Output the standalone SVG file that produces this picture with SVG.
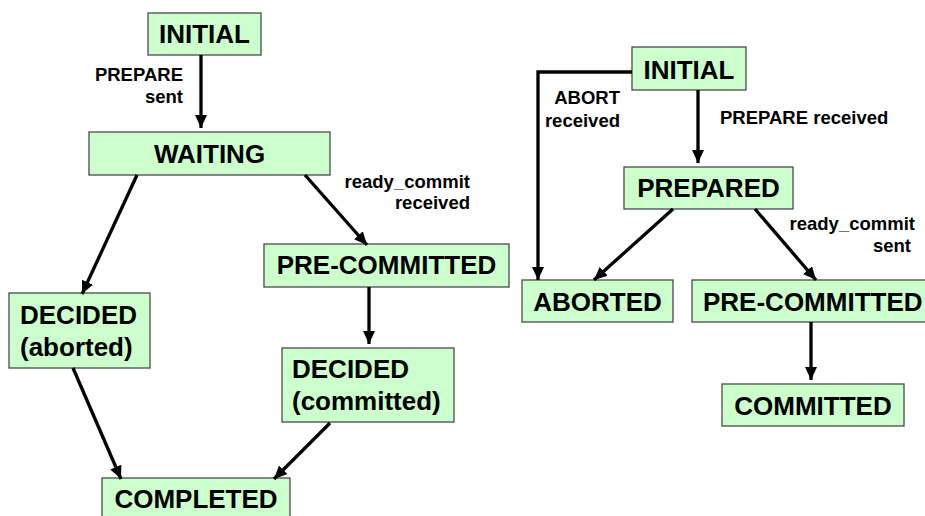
<svg xmlns="http://www.w3.org/2000/svg" width="925" height="516" viewBox="0 0 925 516">
  <style>
    .box { fill: #ccffcc; stroke: #4a4a4a; stroke-width: 1.3; }
    .title { font-family: "Liberation Sans", Arial, sans-serif; font-weight: bold; font-size: 26px; fill: #000; }
    .mid { text-anchor: middle; }
    .lbl { font-family: "Liberation Sans", Arial, sans-serif; font-weight: bold; font-size: 18.5px; fill: #000; }
    .end { text-anchor: end; }
    .edge { fill: none; stroke: #000; stroke-width: 3.3; marker-end: url(#arrow); }
  </style>
  <defs>
    <marker id="arrow" markerUnits="userSpaceOnUse" markerWidth="14" markerHeight="12" refX="13" refY="6" orient="auto">
      <path d="M0,0 L13,6 L0,12 z" fill="#000"/>
    </marker>
  </defs>
  <rect width="925" height="516" fill="#fff"/>

  <!-- left machine: coordinator states -->
  <g id="c-initial">
    <rect class="box" x="148" y="13" width="113" height="42"/>
    <text class="title mid" x="204.5" y="43">INITIAL</text>
  </g>
  <g id="c-waiting">
    <rect class="box" x="89" y="132" width="241" height="43"/>
    <text class="title mid" x="209.5" y="163">WAITING</text>
  </g>
  <g id="c-decided-aborted">
    <rect class="box" x="9" y="293" width="141" height="75"/>
    <text class="title" x="20" y="324">DECIDED</text>
    <text class="title" x="20" y="356">(aborted)</text>
  </g>
  <g id="c-precommitted">
    <rect class="box" x="264" y="244" width="245" height="43"/>
    <text class="title mid" x="386.5" y="274">PRE-COMMITTED</text>
  </g>
  <g id="c-decided-committed">
    <rect class="box" x="282" y="348" width="172" height="74"/>
    <text class="title" x="292" y="378">DECIDED</text>
    <text class="title" x="292" y="410">(committed)</text>
  </g>
  <g id="c-completed">
    <rect class="box" x="102" y="478" width="188" height="50"/>
    <text class="title mid" x="196" y="508">COMPLETED</text>
  </g>

  <!-- right machine: participant states -->
  <g id="p-initial">
    <rect class="box" x="632" y="47" width="114" height="43"/>
    <text class="title mid" x="689" y="79">INITIAL</text>
  </g>
  <g id="p-prepared">
    <rect class="box" x="624" y="167" width="169" height="42"/>
    <text class="title mid" x="708.5" y="197">PREPARED</text>
  </g>
  <g id="p-aborted">
    <rect class="box" x="522" y="280" width="151" height="42"/>
    <text class="title mid" x="597.5" y="311">ABORTED</text>
  </g>
  <g id="p-precommitted">
    <rect class="box" x="692" y="280" width="250" height="42"/>
    <text class="title" x="703" y="311">PRE-COMMITTED</text>
  </g>
  <g id="p-committed">
    <rect class="box" x="722" y="384" width="182" height="42"/>
    <text class="title mid" x="813" y="415">COMMITTED</text>
  </g>

  <!-- transitions -->
  <g id="connectors">
    <line class="edge" x1="201" y1="55" x2="201" y2="128"/>
    <line class="edge" x1="137" y1="175" x2="82" y2="294"/>
    <line class="edge" x1="305" y1="175" x2="367" y2="245"/>
    <line class="edge" x1="369" y1="287" x2="369" y2="344"/>
    <line class="edge" x1="73" y1="368" x2="121" y2="479"/>
    <line class="edge" x1="330" y1="423" x2="274" y2="479"/>

    <polyline class="edge" points="632,72 538,72 538,280"/>
    <line class="edge" x1="698" y1="90" x2="698" y2="163"/>
    <line class="edge" x1="673" y1="209" x2="594" y2="280"/>
    <line class="edge" x1="755" y1="209" x2="816" y2="280"/>
    <line class="edge" x1="811" y1="322" x2="811" y2="380"/>
  </g>

  <!-- transition labels -->
  <g id="labels">
    <text class="lbl end" x="183" y="81">PREPARE</text>
    <text class="lbl end" x="183" y="103">sent</text>
    <text class="lbl end" x="470" y="188">ready_commit</text>
    <text class="lbl end" x="470" y="209">received</text>
    <text class="lbl end" x="620" y="104">ABORT</text>
    <text class="lbl end" x="620" y="127">received</text>
    <text class="lbl" x="720" y="124">PREPARE received</text>
    <text class="lbl end" x="915" y="230">ready_commit</text>
    <text class="lbl end" x="911" y="252">sent</text>
  </g>
</svg>
